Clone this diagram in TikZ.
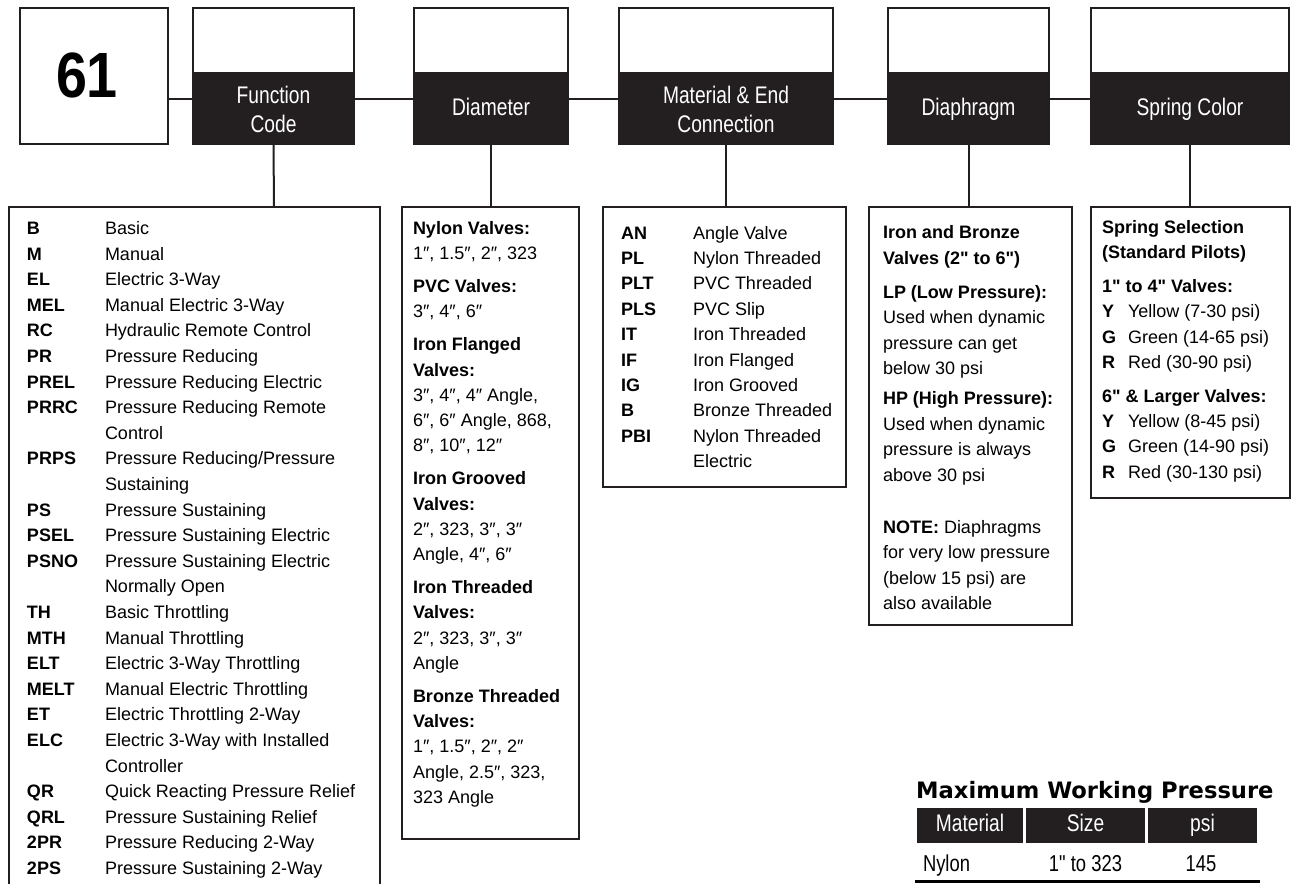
\documentclass[tikz,border=0pt]{standalone}
\usepackage{fontspec}
\setmainfont{Liberation Sans}[Ligatures=TeXOff]
\newfontfamily\hdrfont[FakeStretch=0.8]{Liberation Sans}
\newfontfamily\numfont[FakeStretch=0.87]{Liberation Sans}
\newfontfamily\ttlfont{DejaVu Sans}
\usepackage{array}
\newcommand\dq{\char34\relax}
\definecolor{ink}{HTML}{231F20}
\begin{document}
\begin{tikzpicture}[x=1pt,y=-1pt,
  topbox/.style={draw=ink, line width=2.4pt, fill=white, anchor=north west, minimum height=65pt, inner sep=0pt, outer sep=0pt},
  hdbox/.style={fill=ink, text=white, anchor=north west, minimum height=72pt, inner sep=0pt, outer sep=0pt, align=center, font=\hdrfont\fontsize{24}{29}\selectfont},
  hdone/.style={hdbox, text height=17pt, text depth=5pt},
  listline/.style={draw=ink, line width=2.6pt},
  listbox/.style={draw=ink, line width=2.6pt, anchor=north west, inner sep=0pt, outer sep=0pt},
  listtext/.style={anchor=base west, inner sep=0pt, outer sep=0pt, font=\fontsize{18}{25.5}\selectfont},
  link/.style={draw=ink, line width=2pt},
  cell/.style={fill=ink, text=white, anchor=north west, minimum height=35pt, inner sep=0pt, outer sep=0pt, text height=17pt, text depth=5pt, font=\hdrfont\fontsize{24}{26}\selectfont},
  rowtxt/.style={inner sep=0pt, outer sep=0pt, font=\hdrfont\fontsize{23}{26}\selectfont}
]
\useasboundingbox (0,0) rectangle (1291,884);

% ---------- top row ----------
\node[draw=ink, line width=2.4pt, anchor=north west, minimum width=148pt, minimum height=136pt, inner sep=0pt, outer sep=0pt] (n61) at (20,8) {};
\node[inner sep=0pt] (n61t) at (87,75) {\numfont\bfseries\fontsize{64}{64}\selectfont 61};

\node[topbox, minimum width=161pt] (fcT) at (193,8) {};
\node[hdbox, minimum width=163.4pt] (fc) at (191.8,73) {Function\\Code};

\node[topbox, minimum width=154pt] (dmT) at (414,8) {};
\node[hdone, minimum width=156.4pt] (dm) at (412.8,73) {Diameter};

\node[topbox, minimum width=214pt] (mtT) at (619,8) {};
\node[hdbox, minimum width=216.4pt] (mt) at (617.8,73) {Material \& End\\Connection};

\node[topbox, minimum width=161pt] (dpT) at (888,8) {};
\node[hdone, minimum width=163.4pt] (dp) at (886.8,73) {Diaphragm};

\node[topbox, minimum width=198pt] (spT) at (1091,8) {};
\node[hdone, minimum width=200.4pt] (sp) at (1089.8,73) {Spring Color};

\coordinate (hl) at (0,99);
\draw[link] (n61.east |- hl) -- (fc.west |- hl);
\draw[link] (fc.east |- hl) -- (dm.west |- hl);
\draw[link] (dm.east |- hl) -- (mt.west |- hl);
\draw[link] (mt.east |- hl) -- (dp.west |- hl);
\draw[link] (dp.east |- hl) -- (sp.west |- hl);

% ---------- lower boxes ----------
\draw[listline] (9,884) -- (9,207) -- (380,207) -- (380,884);
\coordinate (fcL) at (274,207);
\node[listbox, minimum width=177pt, minimum height=632pt] (dmL) at (402,207) {};
\node[listbox, minimum width=243pt, minimum height=280pt] (mtL) at (603,207) {};
\node[listbox, minimum width=203pt, minimum height=418pt] (dpL) at (869,207) {};
\node[listbox, minimum width=199pt, minimum height=291pt] (spL) at (1091,207) {};

\draw[link] (fc.south) -- (fcL);
\draw[link] (dm.south) -- (dm.south |- dmL.north);
\draw[link] (mt.south) -- (mt.south |- mtL.north);
\draw[link] (dp.south) -- (dp.south |- dpL.north);
\draw[link] (sp.south) -- (sp.south |- spL.north);

% ---------- list texts ----------
\node[listtext] (fcX) at (27,234.5) {\fontsize{18}{25.6}\selectfont
\begin{tabular}[t]{@{}p{78pt}@{}l@{}}
\textbf{B} & Basic\\
\textbf{M} & Manual\\
\textbf{EL} & Electric 3-Way\\
\textbf{MEL} & Manual Electric 3-Way\\
\textbf{RC} & Hydraulic Remote Control\\
\textbf{PR} & Pressure Reducing\\
\textbf{PREL} & Pressure Reducing Electric\\
\textbf{PRRC} & Pressure Reducing Remote\\
 & Control\\
\textbf{PRPS} & Pressure Reducing/Pressure\\
 & Sustaining\\
\textbf{PS} & Pressure Sustaining\\
\textbf{PSEL} & Pressure Sustaining Electric\\
\textbf{PSNO} & Pressure Sustaining Electric\\
 & Normally Open\\
\textbf{TH} & Basic Throttling\\
\textbf{MTH} & Manual Throttling\\
\textbf{ELT} & Electric 3-Way Throttling\\
\textbf{MELT} & Manual Electric Throttling\\
\textbf{ET} & Electric Throttling 2-Way\\
\textbf{ELC} & Electric 3-Way with Installed\\
 & Controller\\
\textbf{QR} & Quick Reacting Pressure Relief\\
\textbf{QRL} & Pressure Sustaining Relief\\
\textbf{2PR} & Pressure Reducing 2-Way\\
\textbf{2PS} & Pressure Sustaining 2-Way
\end{tabular}};

\node[listtext] (dmX) at (413,234.5) {\fontsize{18}{25.3}\selectfont
\begin{tabular}[t]{@{}l@{}}
\textbf{Nylon Valves:}\\
1″, 1.5″, 2″, 323\\[7.5pt]
\textbf{PVC Valves:}\\
3″, 4″, 6″\\[7.5pt]
\textbf{Iron Flanged}\\
\textbf{Valves:}\\
3″, 4″, 4″ Angle,\\
6″, 6″ Angle, 868,\\
8″, 10″, 12″\\[7.5pt]
\textbf{Iron Grooved}\\
\textbf{Valves:}\\
2″, 323, 3″, 3″\\
Angle, 4″, 6″\\[7.5pt]
\textbf{Iron Threaded}\\
\textbf{Valves:}\\
2″, 323, 3″, 3″\\
Angle\\[7.5pt]
\textbf{Bronze Threaded}\\
\textbf{Valves:}\\
1″, 1.5″, 2″, 2″\\
Angle, 2.5″, 323,\\
323 Angle
\end{tabular}};

\node[listtext] (mtX) at (621,239) {\fontsize{18}{25.4}\selectfont
\begin{tabular}[t]{@{}p{72pt}@{}l@{}}
\textbf{AN} & Angle Valve\\
\textbf{PL} & Nylon Threaded\\
\textbf{PLT} & PVC Threaded\\
\textbf{PLS} & PVC Slip\\
\textbf{IT} & Iron Threaded\\
\textbf{IF} & Iron Flanged\\
\textbf{IG} & Iron Grooved\\
\textbf{B} & Bronze Threaded\\
\textbf{PBI} & Nylon Threaded\\
 & Electric
\end{tabular}};

\node[listtext] (dpX) at (883,238.5) {\fontsize{18}{25.5}\selectfont
\begin{tabular}[t]{@{}l@{}}
\textbf{Iron and Bronze}\\
\textbf{Valves (2\dq{} to 6\dq)}\\[8.5pt]
\textbf{LP (Low Pressure):}\\
Used when dynamic\\
pressure can get\\
below 30 psi\\[4.5pt]
\textbf{HP (High Pressure):}\\
Used when dynamic\\
pressure is always\\
above 30 psi\\[26.5pt]
\textbf{NOTE:} Diaphragms\\
for very low pressure\\
(below 15 psi) are\\
also available
\end{tabular}};

\node[listtext] (spX) at (1102,233.5) {\fontsize{18}{25.3}\selectfont
\begin{tabular}[t]{@{}p{26pt}@{}l@{}}
\multicolumn{2}{@{}l@{}}{\textbf{Spring Selection}}\\
\multicolumn{2}{@{}l@{}}{\textbf{(Standard Pilots)}}\\[8.5pt]
\multicolumn{2}{@{}l@{}}{\textbf{1\dq{} to 4\dq{} Valves:}}\\
\textbf{Y} & Yellow (7-30 psi)\\
\textbf{G} & Green (14-65 psi)\\
\textbf{R} & Red (30-90 psi)\\[8.5pt]
\multicolumn{2}{@{}l@{}}{\textbf{6\dq{} \& Larger Valves:}}\\
\textbf{Y} & Yellow (8-45 psi)\\
\textbf{G} & Green (14-90 psi)\\
\textbf{R} & Red (30-130 psi)
\end{tabular}};

% ---------- pressure table ----------
\node[anchor=base west, inner sep=0pt] (mwp) at (916,798.5) {\ttlfont\bfseries\fontsize{22.6}{26}\selectfont Maximum Working Pressure};
\node[cell, minimum width=106pt] (c1) at (917,808) {Material};
\node[cell, minimum width=119pt] (c2) at (1026,808) {Size};
\node[cell, minimum width=109pt] (c3) at (1148,808) {psi};
\node[rowtxt, anchor=base west] (r1) at (923,871) {Nylon};
\node[rowtxt, anchor=base] (r2) at (c2.south |- 0,871) {1\dq{} to 323};
\node[rowtxt, anchor=base] (r3) at (1201,871) {145};
\draw[draw=black, line width=3pt] (915,881.5) -- (1260,881.5);
\end{tikzpicture}
\end{document}
